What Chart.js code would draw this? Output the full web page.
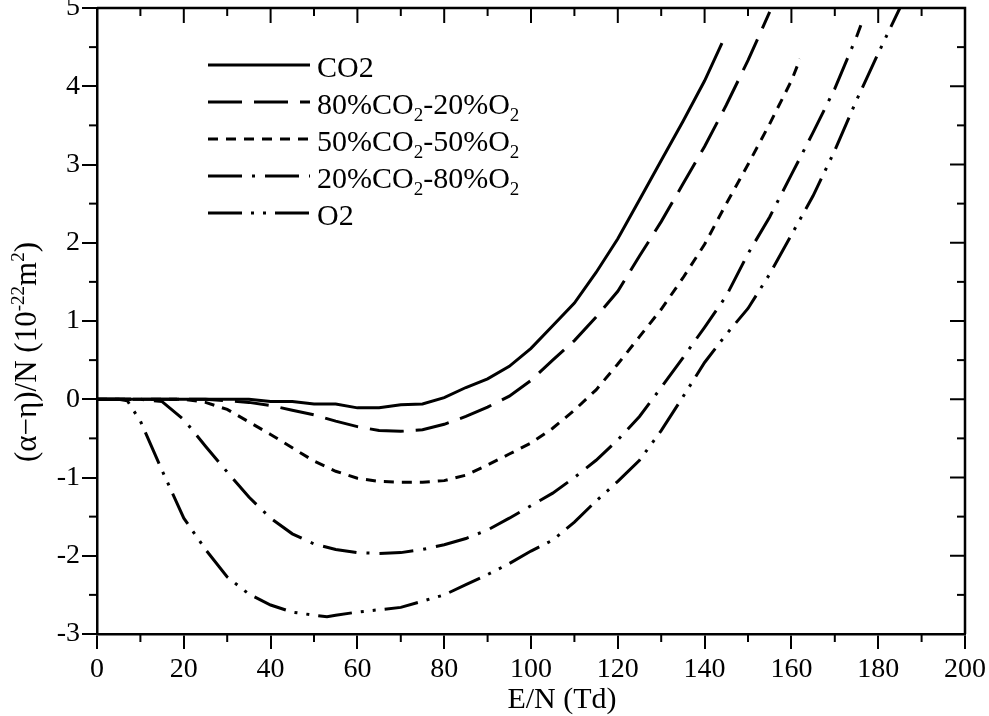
<!DOCTYPE html>
<html><head><meta charset="utf-8">
<script src="https://cdn.jsdelivr.net/npm/chart.js@4.4.1/dist/chart.umd.min.js"></script>
<style>html,body{margin:0;padding:0;background:#fff;overflow:hidden}#wrap{width:989px;height:716px}</style>
</head><body><div id="wrap"><canvas id="c" width="989" height="716" style="width:989px;height:716px"></canvas></div>
<script>
// ---- tick labels ----
const xTicks = [0,20,40,60,80,100,120,140,160,180,200];
const yTicks = [-3,-2,-1,0,1,2,3,4,5];
const xTitle = 'E/N (Td)';
const yTitleParts = [['(α−η)/N (10',0],['-22',1],['m',0],['2',1],[')',0]];
const seriesLabels = ['CO2','80%CO_2-20%O_2','50%CO_2-50%O_2','20%CO_2-80%O_2','O2'];

// ---- series values (E/N in Td, (α−η)/N in 1e-22 m^2) ----
const co2X = [0,5,10,15,20,25,30,35,40,45,50,55,60,65,70,75,80,85,90,95,100,105,110,115,120,125,130,135,140,144];
const co2Y = [0,0,0,0,0,0,0,0,-0.03,-0.03,-0.06,-0.06,-0.11,-0.11,-0.07,-0.06,0.02,0.15,0.26,0.42,0.65,0.94,1.23,1.62,2.05,2.55,3.05,3.55,4.07,4.55];

const mix8020X = [0,5,10,15,20,25,30,35,40,45,50,55,60,65,70,75,80,85,90,95,100,105,110,115,120,125,130,135,140,145,150,155];
const mix8020Y = [0,0,0,0,0,0,-0.02,-0.04,-0.08,-0.14,-0.2,-0.28,-0.35,-0.4,-0.41,-0.39,-0.32,-0.22,-0.1,0.04,0.24,0.5,0.75,1.05,1.38,1.83,2.27,2.75,3.23,3.76,4.33,4.95];

const mix5050X = [0,5,10,15,20,25,30,35,40,45,50,55,60,65,70,75,80,85,90,95,100,105,110,115,120,125,130,135,140,145,150,155,160,162];
const mix5050Y = [0,0,0,0,0,-0.04,-0.13,-0.29,-0.45,-0.62,-0.79,-0.92,-1.01,-1.05,-1.06,-1.06,-1.04,-0.97,-0.84,-0.7,-0.56,-0.37,-0.14,0.12,0.45,0.8,1.15,1.55,1.98,2.5,3.0,3.52,4.07,4.35];

const mix2080X = [0,5,10,15,20,25,30,35,40,45,50,55,60,65,70,75,80,85,90,95,100,105,110,115,120,125,130,135,140,145,150,155,160,165,170,175,176];
const mix2080Y = [0,0,0,-0.03,-0.26,-0.6,-0.93,-1.25,-1.52,-1.72,-1.85,-1.92,-1.96,-1.97,-1.96,-1.92,-1.86,-1.78,-1.67,-1.52,-1.36,-1.2,-1.0,-0.78,-0.52,-0.22,0.15,0.53,0.92,1.32,1.86,2.33,2.87,3.41,3.97,4.63,4.78];

const o2X = [0,5,7,10,15,20,25,30,35,40,45,50,53,55,60,65,70,75,80,85,90,95,100,105,110,115,120,125,130,135,140,145,150,155,160,165,170,175,180,185];
const o2Y = [0,0,-0.02,-0.28,-0.91,-1.52,-1.92,-2.27,-2.49,-2.63,-2.72,-2.76,-2.78,-2.76,-2.72,-2.69,-2.66,-2.58,-2.5,-2.37,-2.24,-2.1,-1.94,-1.8,-1.57,-1.3,-1.05,-0.78,-0.4,0.03,0.47,0.83,1.16,1.6,2.1,2.6,3.18,3.82,4.42,5.0];

const FONT = 'Liberation Serif, Times New Roman, serif';
const pts = (xs, ys) => xs.map((v, i) => ({x: v, y: ys[i]}));
const dashes = [[], [34,12], [10,8], [34,10,3,10], [34,9,3,9,3,9]];
const series = [[co2X,co2Y],[mix8020X,mix8020Y],[mix5050X,mix5050Y],[mix2080X,mix2080Y],[o2X,o2Y]];

const datasets = series.map((s, i) => ({
  label: seriesLabels[i],
  data: pts(s[0], s[1]),
  showLine: true,
  borderColor: '#000',
  borderWidth: 3,
  borderDash: dashes[i],
  pointRadius: 0,
  tension: 0,
  fill: false
}));

const mids = a => a.slice(1).map((v, i) => (v + a[i]) / 2);

function drawRich(ctx, parts, x, y, size, align) {
  const widths = parts.map(p => { ctx.font = (p[1] ? Math.round(size*0.62) : size) + 'px ' + FONT; return ctx.measureText(p[0]).width; });
  const total = widths.reduce((a, b) => a + b, 0);
  let cx = align === 'center' ? x - total / 2 : x;
  parts.forEach((p, i) => {
    ctx.font = (p[1] ? Math.round(size*0.62) : size) + 'px ' + FONT;
    const dy = p[1] === 1 ? -size*0.38 : (p[1] === 2 ? size*0.24 : 0);
    ctx.fillText(p[0], cx, y + dy);
    cx += widths[i];
  });
}
function parseSub(label) {
  const out = []; let buf = '';
  for (let i = 0; i < label.length; i++) {
    if (label[i] === '_') { if (buf) out.push([buf,0]); buf=''; out.push([label[i+1],2]); i++; }
    else buf += label[i];
  }
  if (buf) out.push([buf,0]);
  return out;
}

const decor = {
  id: 'decor',
  afterDraw(chart) {
    const {ctx, chartArea: a, scales: {x, y}} = chart;
    ctx.save();
    ctx.strokeStyle = '#000'; ctx.fillStyle = '#000'; ctx.setLineDash([]);
    ctx.lineWidth = 2.5;
    ctx.beginPath(); ctx.moveTo(a.left, a.top); ctx.lineTo(a.right, a.top); ctx.lineTo(a.right, a.bottom); ctx.stroke();
    ctx.lineWidth = 2;
    const seg = (x1, y1, x2, y2) => { ctx.beginPath(); ctx.moveTo(x1, y1); ctx.lineTo(x2, y2); ctx.stroke(); };
    const MAJ = 15, MIN = 8;
    xTicks.forEach(v => { const p = x.getPixelForValue(v); seg(p, a.top, p, a.top + MAJ); });
    mids(xTicks).forEach(v => { const p = x.getPixelForValue(v); seg(p, a.top, p, a.top + MIN); seg(p, a.bottom, p, a.bottom + MIN); });
    yTicks.forEach(v => { const p = y.getPixelForValue(v); seg(a.right, p, a.right - MAJ, p); });
    mids(yTicks).forEach(v => { const p = y.getPixelForValue(v); seg(a.right, p, a.right - MIN, p); seg(a.left, p, a.left - MIN, p); });

    // legend
    chart.data.datasets.forEach((ds, i) => {
      const ly = a.top + 57 + 37 * i;
      ctx.lineWidth = 3; ctx.setLineDash(ds.borderDash);
      seg(a.left + 111, ly, a.left + 213, ly);
      ctx.setLineDash([]);
      ctx.textAlign = 'left'; ctx.textBaseline = 'alphabetic';
      drawRich(ctx, parseSub(ds.label), a.left + 220, ly + 11.5, 30, 'left');
    });

    // axis titles
    ctx.textAlign = 'left'; ctx.textBaseline = 'alphabetic';
    ctx.font = '30px ' + FONT;
    const tw = ctx.measureText(xTitle).width;
    ctx.fillText(xTitle, a.left + 465 - tw / 2, a.bottom + 74);
    ctx.translate(a.left - 61, a.top + 344);
    ctx.rotate(-Math.PI / 2);
    drawRich(ctx, yTitleParts, 0, 0, 31, 'center');
    ctx.restore();
  }
};

new Chart(document.getElementById('c'), {
  type: 'scatter',
  data: {datasets},
  options: {
    responsive: false,
    animation: false,
    devicePixelRatio: 1,
    layout: {padding: {top: 8, right: 24, left: 0, bottom: 0}},
    plugins: {legend: {display: false}, tooltip: {enabled: false}},
    scales: {
      x: {
        type: 'linear', min: 0, max: 200,
        afterBuildTicks: s => { s.ticks = xTicks.map(v => ({value: v})); },
        afterFit: s => { s.height = 82; s.paddingLeft = 0; s.paddingRight = 0; },
        ticks: {color: '#000', font: {family: FONT, size: 28}, padding: 4, maxRotation: 0, autoSkip: false},
        grid: {drawOnChartArea: false, drawTicks: true, tickLength: 15, color: '#000', lineWidth: 2},
        border: {display: true, color: '#000', width: 2.5}
      },
      y: {
        type: 'linear', min: -3, max: 5,
        afterBuildTicks: s => { s.ticks = yTicks.map(v => ({value: v})); },
        afterFit: s => { s.width = 97; s.paddingTop = 0; s.paddingBottom = 0; },
        ticks: {color: '#000', font: {family: FONT, size: 28}, padding: 2, autoSkip: false},
        grid: {drawOnChartArea: false, drawTicks: true, tickLength: 15, color: '#000', lineWidth: 2},
        border: {display: true, color: '#000', width: 2.5}
      }
    }
  },
  plugins: [decor]
});
</script></body></html>
